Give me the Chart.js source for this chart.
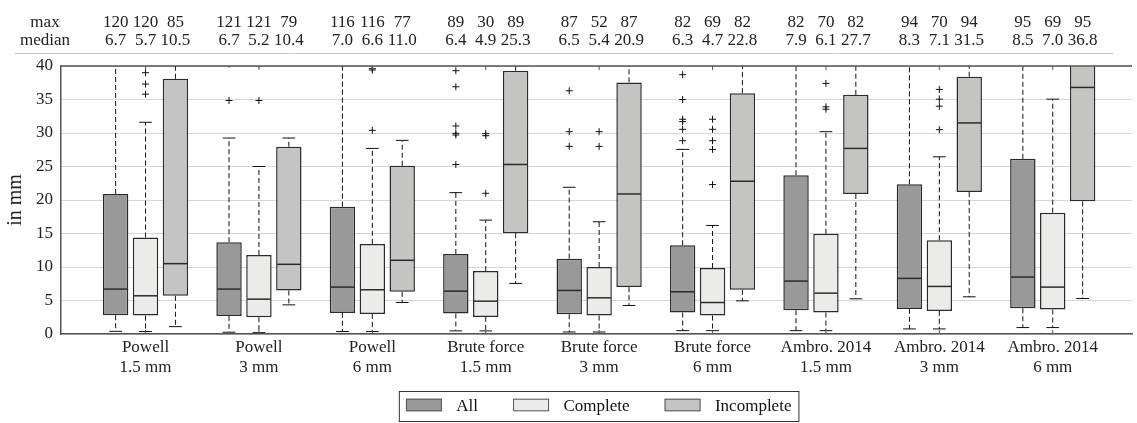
<!DOCTYPE html>
<html>
<head>
<meta charset="utf-8">
<script src="https://cdn.jsdelivr.net/npm/chart.js@4.4.1/dist/chart.umd.min.js"></script>
<style>
  html,body{margin:0;padding:0;background:#fff;}
  canvas{display:block;}
</style>
</head>
<body>
<canvas id="chart" width="1137" height="423"></canvas>
<script>
/* DATA */
const categories = [
  ["Powell","1.5 mm"], ["Powell","3 mm"], ["Powell","6 mm"],
  ["Brute force","1.5 mm"], ["Brute force","3 mm"], ["Brute force","6 mm"],
  ["Ambro. 2014","1.5 mm"], ["Ambro. 2014","3 mm"], ["Ambro. 2014","6 mm"]
];
const yTicks = [0,5,10,15,20,25,30,35,40];

// All
const allMax  = [120,121,116,89,87,82,82,94,95];
const allMed  = [6.7,6.7,7.0,6.4,6.5,6.3,7.9,8.3,8.5];
const allQ1   = [2.8,2.7,3.15,3.05,2.95,3.2,3.55,3.75,3.85];
const allQ3   = [20.9,13.7,19.0,11.95,11.25,13.25,23.7,22.35,26.15];
const allLow  = [0.4,0.27,0.37,0.46,0.3,0.5,0.5,0.76,0.96];
const allHigh = [48,29.25,43,21.1,21.9,27.55,54,50,60];
const allOut  = [[],[34.85,40.3],[],[39.3,36.9,31.05,29.95,29.7,25.3],[36.3,30.2,28.0],
                 [38.7,35.0,32.05,31.7,30.55,28.85],[],[],[]];

// Complete
const compMax  = [120,121,116,30,52,69,70,70,69];
const compMed  = [5.7,5.2,6.6,4.9,5.4,4.7,6.1,7.1,7.0];
const compQ1   = [2.75,2.5,3.0,2.55,2.75,2.75,3.2,3.45,3.65];
const compQ3   = [14.4,11.8,13.45,9.4,10.0,9.85,14.95,14.0,18.1];
const compLow  = [0.37,0.2,0.37,0.46,0.3,0.5,0.5,0.76,0.96];
const compHigh = [31.6,25.0,27.7,17.0,16.75,16.2,30.2,26.45,35.05];
const compOut  = [[39.0,37.3,35.8],[34.85,40.3],[39.6,39.4,30.4],[29.9,29.6,21.0],[30.2,28.0],
                  [32.05,30.55,28.85,27.55,22.3],[37.4,33.9,33.55],[36.5,35.05,34.0,30.5],[]];

// Incomplete
const incMax  = [85,79,77,89,87,82,82,94,95];
const incMed  = [10.5,10.4,11.0,25.3,20.9,22.8,27.7,31.5,36.8];
const incQ1   = [5.7,6.5,6.3,15.05,7.0,6.6,20.9,21.2,19.8];
const incQ3   = [38.1,27.95,25.1,39.3,37.55,35.95,35.7,38.4,45];
const incLow  = [1.1,4.35,4.7,7.55,4.25,4.95,5.25,5.55,5.3];
const incHigh = [55,29.25,28.9,60,58,56,56,62,64];

const SERIF = '"Liberation Serif", "DejaVu Serif", serif';
const CAT_PCT = 0.791;

const series = [
  {label:"All",        color:"#999999", max:allMax,  med:allMed,  q1:allQ1,  q3:allQ3,  low:allLow,  high:allHigh,  out:allOut},
  {label:"Complete",   color:"#ebecea", max:compMax, med:compMed, q1:compQ1, q3:compQ3, low:compLow, high:compHigh, out:compOut},
  {label:"Incomplete", color:"#c4c5c3", max:incMax,  med:incMed,  q1:incQ1,  q3:incQ3,  low:incLow,  high:incHigh,  out:[[],[],[],[],[],[],[],[],[]]}
];

function boxData(s){
  return s.q1.map((v,i)=>({x:i+1, y:[v, s.q3[i]]}));
}
function outlierData(s, k){
  const shift = (k-1)*CAT_PCT/3;
  const pts = [];
  s.out.forEach((list,i)=> list.forEach(v=> pts.push({x:i+1+shift, y:v})));
  return pts;
}

function line(ctx, x1, y1, x2, y2){
  ctx.beginPath(); ctx.moveTo(x1,y1); ctx.lineTo(x2,y2); ctx.stroke();
}

/* BOX PLOT PARTS: whiskers, caps, medians, frame, header, legend */
const boxPlot = {
  id:"boxPlot",
  afterDatasetsDraw(chart){
    const {ctx, chartArea:a, scales:{x, y}} = chart;
    ctx.save();
    ctx.beginPath(); ctx.rect(a.left, a.top, a.right-a.left, a.bottom-a.top); ctx.clip();
    series.forEach((s,d)=>{
      chart.getDatasetMeta(d).data.forEach((bar,i)=>{
        const bx = bar.x, half = bar.width/2, cap = bar.width/4;
        ctx.strokeStyle = "#111"; ctx.lineWidth = 1;
        ctx.setLineDash([5,3]);
        line(ctx, bx, y.getPixelForValue(s.q3[i]), bx, y.getPixelForValue(s.high[i]));
        line(ctx, bx, y.getPixelForValue(s.q1[i]), bx, y.getPixelForValue(s.low[i]));
        ctx.setLineDash([]);
        line(ctx, bx-cap, y.getPixelForValue(s.high[i]), bx+cap, y.getPixelForValue(s.high[i]));
        line(ctx, bx-cap, y.getPixelForValue(s.low[i]), bx+cap, y.getPixelForValue(s.low[i]));
        ctx.strokeStyle = "#2a2a2a"; ctx.lineWidth = 1.5;
        const my = y.getPixelForValue(s.med[i]);
        line(ctx, bx-half+1, my, bx+half-1, my);
      });
    });
    ctx.restore();

    // top frame and inner ticks
    ctx.save();
    ctx.strokeStyle = "#555"; ctx.lineWidth = 1.5;
    line(ctx, a.left, a.top, a.right, a.top);
    ctx.lineWidth = 1;
    categories.forEach((c,i)=>{
      const tx = x.getPixelForValue(i+1);
      line(ctx, tx, a.bottom, tx, a.bottom-4);
      line(ctx, tx, a.top, tx, a.top+4);
    });
    ctx.restore();
  },
  afterDraw(chart){
    const {ctx, scales:{x}} = chart;
    ctx.save();
    ctx.font = "17px " + SERIF;
    ctx.fillStyle = "#222";
    ctx.textAlign = "center";
    ctx.textBaseline = "alphabetic";
    ctx.fillText("max", 45, 27);
    ctx.fillText("median", 45, 45);
    series.forEach((s,d)=>{
      chart.getDatasetMeta(d).data.forEach((bar,i)=>{
        ctx.fillText(String(s.max[i]), bar.x, 27);
        ctx.fillText(s.med[i].toFixed(1), bar.x, 45);
      });
    });
    ctx.strokeStyle = "#c8c8c8"; ctx.lineWidth = 1;
    line(ctx, 15, 53.5, 1113, 53.5);

    // legend
    const sw = 36, sh = 12.6, gapT = 14.4, gapI = 35, padL = 6.6, padR = 7.5;
    let total = padL + padR;
    series.forEach((s,k)=>{ total += sw + gapT + ctx.measureText(s.label).width + (k ? gapI : 0); });
    const cx = (x.getPixelForValue(1) + x.getPixelForValue(categories.length)) / 2;
    const left = cx - total/2, top = 391.5, h = 30;
    ctx.strokeStyle = "#333";
    ctx.strokeRect(left, top, total, h);
    ctx.textAlign = "left";
    let px = left + padL;
    series.forEach(s=>{
      ctx.fillStyle = s.color;
      ctx.fillRect(px, 398.7, sw, sh);
      ctx.strokeStyle = "#555";
      ctx.strokeRect(px+0.5, 399.2, sw-1, sh-1);
      ctx.fillStyle = "#111";
      ctx.fillText(s.label, px+sw+gapT, 411.3);
      px += sw + gapT + ctx.measureText(s.label).width + gapI;
    });
    ctx.restore();
  }
};

const datasets = [];
series.forEach(s=>{
  datasets.push({
    type:"bar", label:s.label, data:boxData(s),
    backgroundColor:s.color, borderColor:"#2b2b2b", borderWidth:1.5, borderSkipped:false,
    categoryPercentage:CAT_PCT, barPercentage:0.85, clip:0
  });
});
series.forEach((s,k)=>{
  datasets.push({
    type:"scatter", label:s.label+" outliers", data:outlierData(s,k),
    pointStyle:"cross", radius:3.5, borderColor:"#111", borderWidth:1, clip:0
  });
});

new Chart(document.getElementById("chart"), {
  type:"bar",
  data:{ datasets },
  options:{
    responsive:false,
    animation:false,
    layout:{ padding:{top:66, bottom:39, left:0, right:1} },
    plugins:{ legend:{display:false}, tooltip:{enabled:false} },
    scales:{
      x:{
        type:"linear", min:0.2546, max:9.699, offset:false,
        afterBuildTicks: s => { s.ticks = categories.map((c,i)=>({value:i+1})); },
        afterFit: s => { s.height = 50; },
        grid:{display:false, drawTicks:false, offset:false},
        border:{color:"#555", width:1.5},
        ticks:{
          autoSkip:false, maxRotation:0, padding:3, color:"#222",
          font:{family:SERIF, size:17},
          callback:(v,i)=>categories[i]
        }
      },
      y:{
        min:0, max:40,
        afterBuildTicks: s => { s.ticks = yTicks.map(v=>({value:v})); },
        afterFit: s => { s.width = 61; },
        grid:{color:"#d6d6d6", drawTicks:false},
        border:{color:"#555", width:1.5},
        ticks:{padding:8, color:"#222", font:{family:SERIF, size:17}},
        title:{display:true, text:"in mm", color:"#222", font:{family:SERIF, size:20}, padding:{top:4, bottom:0}}
      }
    }
  },
  plugins:[boxPlot]
});
</script>
</body>
</html>
